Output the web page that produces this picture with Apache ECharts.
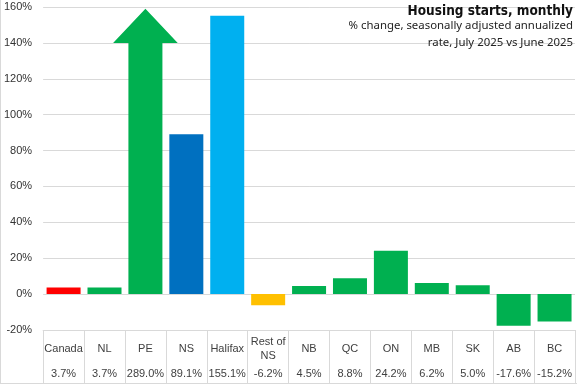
<!DOCTYPE html>
<html><head><meta charset="utf-8">
<script src="https://cdn.jsdelivr.net/npm/echarts@6/dist/echarts.min.js"></script>
<style>
html,body{margin:0;padding:0;background:#fff;}
#c{width:577px;height:384px;box-sizing:border-box;border-left:1px solid #d9d9d9;border-bottom:1px solid #d9d9d9;}
</style></head>
<body><div id="c"></div>
<script>
const categories = ['Canada','NL','PE','NS','Halifax','Rest of\nNS','NB','QC','ON','MB','SK','AB','BC'];
const values = [3.7, 3.7, 289.0, 89.1, 155.1, -6.2, 4.5, 8.8, 24.2, 6.2, 5.0, -17.6, -15.2];
const valueLabels = ['3.7%','3.7%','289.0%','89.1%','155.1%','-6.2%','4.5%','8.8%','24.2%','6.2%','5.0%','-17.6%','-15.2%'];
const colors = ['#FF0000','#00B050','#00B050','#0070C0','#00B0F0','#FFC000','#00B050','#00B050','#00B050','#00B050','#00B050','#00B050','#00B050'];
const yTicks = [-20, 0, 20, 40, 60, 80, 100, 120, 140, 160];
// PE is off the scale: drawn as an arrow (head base and tip in % on the axis)
const arrowIndex = 2;
const arrowHeadBase = 140;
const arrowTip = 159;

const chart = echarts.init(document.getElementById('c'));
const barData = values.map((v, i) => i === arrowIndex ? null : { value: v, itemStyle: { color: colors[i] } });
const subStyle = { fontFamily: 'Noto Sans', fontWeight: 'normal', fontSize: 11.4, color: '#222' };

chart.setOption({
  animation: false,
  title: [{
    text: 'Housing starts, monthly',
    right: 4, top: 4, padding: 0,
    textStyle: { fontFamily: 'DejaVu Sans Condensed, Roboto', fontWeight: 'bold', fontSize: 13.5, color: '#111' }
  }, {
    text: '% change, seasonally adjusted annualized',
    right: 4, top: 20, padding: 0,
    textStyle: subStyle
  }, {
    text: 'rate, July 2025 vs June 2025',
    right: 4, top: 37, padding: 0,
    textStyle: subStyle
  }],
  grid: { left: 40, right: 2, top: 7, bottom: 53 },
  xAxis: [{
    type: 'category', data: categories, position: 'bottom',
    axisLine: { onZero: false, lineStyle: { color: '#d9d9d9' } },
    axisTick: { show: true, alignWithLabel: false, length: 53, lineStyle: { color: '#d9d9d9' } },
    axisLabel: { interval: 0, margin: 19, verticalAlign: 'middle', fontFamily: 'Liberation Sans', fontSize: 11, color: '#404040', lineHeight: 14 }
  }, {
    type: 'category', data: valueLabels, position: 'bottom',
    axisLine: { show: false }, axisTick: { show: false },
    axisLabel: { interval: 0, margin: 44, verticalAlign: 'middle', fontFamily: 'Liberation Sans', fontSize: 11, color: '#404040' }
  }],
  yAxis: {
    type: 'value', min: yTicks[0], max: yTicks[yTicks.length - 1], interval: 20,
    axisLine: { show: false }, axisTick: { show: false },
    splitLine: { lineStyle: { color: '#d9d9d9' } },
    axisLabel: { formatter: '{value}%', margin: 11, fontFamily: 'Liberation Sans', fontSize: 11, color: '#333' }
  },
  series: [{
    type: 'bar', data: barData, barWidth: 34, xAxisIndex: 0
  }, {
    type: 'custom', xAxisIndex: 0,
    data: [[arrowIndex, arrowHeadBase, arrowTip]],
    renderItem: function (params, api) {
      const x = api.value(0);
      const base = api.coord([x, 0]);
      const head = api.coord([x, api.value(1)]);
      const tip = api.coord([x, api.value(2)]);
      const bw = api.size([1, 0])[0];
      const sw = 34 / 2, hw = bw * 0.79;
      const cx = base[0];
      return {
        type: 'polygon',
        shape: { points: [
          [cx - sw, base[1]], [cx - sw, head[1]], [cx - hw, head[1]], [cx, tip[1]],
          [cx + hw, head[1]], [cx + sw, head[1]], [cx + sw, base[1]]
        ] },
        style: { fill: colors[arrowIndex] }
      };
    }
  }]
});
</script></body></html>
